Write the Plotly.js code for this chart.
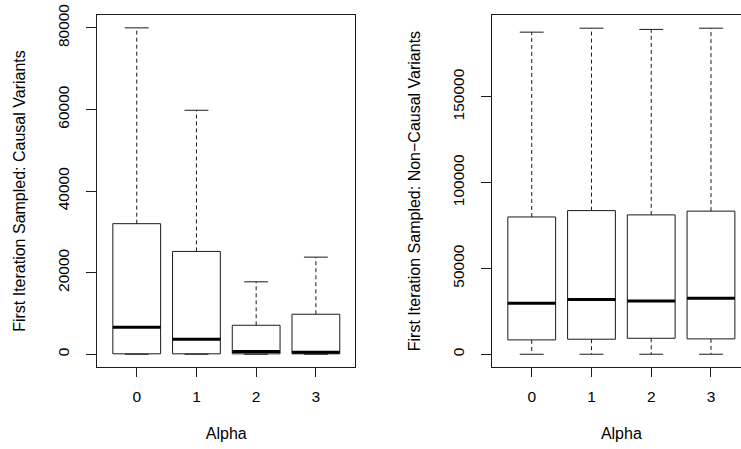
<!DOCTYPE html>
<html>
<head>
<meta charset="utf-8">
<script src="https://cdn.plot.ly/plotly-3.0.1.min.js"></script>
<style>
html, body { margin: 0; padding: 0; overflow: hidden; background: #fff; }
#chart { width: 760px; height: 449px; }
</style>
</head>
<body>
<div id="chart"></div>
<script>
// ---- data ----
var alphaLevels = [0, 1, 2, 3];
var alphaLabels = ['0', '1', '2', '3'];

// Causal variants
var causalLower  = [0, 0, 0, 0];
var causalQ1     = [100, 100, 100, 100];
var causalMedian = [6600, 3700, 650, 500];
var causalQ3     = [32000, 25200, 7100, 9800];
var causalUpper  = [80000, 59800, 17750, 23800];

// Non-causal variants
var noncausalLower  = [0, 0, 0, 0];
var noncausalQ1     = [8350, 8750, 9300, 8950];
var noncausalMedian = [29700, 31900, 31100, 32600];
var noncausalQ3     = [80000, 83700, 81200, 83400];
var noncausalUpper  = [187700, 190000, 189300, 190000];

var causalTitle = 'First Iteration Sampled: Causal Variants';
var noncausalTitle = 'First Iteration Sampled: Non\u2212Causal Variants';
var xTitle = 'Alpha';

// ---- helpers ----
var HALF = 0.4, CAP = 0.2;
var FONT = 'Liberation Sans, Arial, Helvetica, sans-serif';
var LINE = '#1a1a1a';

function boxTraces(lower, q1, med, q3, upper, xa, ya) {
  var bx = [], by = [], wx = [], wy = [], cx = [], cy = [], mx = [], my = [];
  alphaLevels.forEach(function (c, i) {
    bx.push(c - HALF, c + HALF, c + HALF, c - HALF, c - HALF, null);
    by.push(q1[i], q1[i], q3[i], q3[i], q1[i], null);
    wx.push(c, c, null, c, c, null);
    wy.push(q3[i], upper[i], null, q1[i], lower[i], null);
    cx.push(c - CAP, c + CAP, null, c - CAP, c + CAP, null);
    cy.push(upper[i], upper[i], null, lower[i], lower[i], null);
    mx.push(c - HALF, c + HALF, null);
    my.push(med[i], med[i], null);
  });
  var common = { type: 'scatter', mode: 'lines', xaxis: xa, yaxis: ya,
                 hoverinfo: 'skip', showlegend: false };
  return [
    Object.assign({}, common, { x: wx, y: wy, line: { color: LINE, width: 1, dash: '4px,3px' } }),
    Object.assign({}, common, { x: cx, y: cy, line: { color: LINE, width: 1 } }),
    Object.assign({}, common, { x: bx, y: by, line: { color: LINE, width: 1 } }),
    Object.assign({}, common, { x: mx, y: my, line: { color: '#000', width: 3 } })
  ];
}

var data = []
  .concat(boxTraces(causalLower, causalQ1, causalMedian, causalQ3, causalUpper, 'x', 'y'))
  .concat(boxTraces(noncausalLower, noncausalQ1, noncausalMedian, noncausalQ3, noncausalUpper, 'x2', 'y2'));

var W = 760;
function axisX(domain, anchor) {
  return {
    domain: domain, anchor: anchor, range: [-0.66, 3.66],
    tickmode: 'array', tickvals: alphaLevels, ticktext: alphaLabels,
    ticks: 'outside', ticklen: 9, tickcolor: LINE, tickwidth: 1,
    showline: true, mirror: true, linecolor: LINE, linewidth: 1,
    showgrid: false, zeroline: false, automargin: false,
    tickfont: { family: FONT, size: 15.5, color: '#000' },
    ticklabelstandoff: 6,
    title: { text: xTitle, font: { family: FONT, size: 16, color: '#000' }, standoff: 23 }
  };
}
function axisY(domain, anchor, range, tickvals, title) {
  return {
    domain: domain, anchor: anchor, range: range,
    tickmode: 'array', tickvals: tickvals, ticktext: tickvals.map(String),
    tickangle: -90,
    ticks: 'outside', ticklen: 10, tickcolor: LINE, tickwidth: 1,
    showline: true, mirror: true, linecolor: LINE, linewidth: 1,
    showgrid: false, zeroline: false, automargin: false,
    tickfont: { family: FONT, size: 15.5, color: '#000' },
    ticklabelstandoff: 11,
    title: { text: title, font: { family: FONT, size: 16, color: '#000' }, standoff: 25 }
  };
}

var yDom = [0.182, 0.967];
var layout = {
  width: W, height: 449,
  margin: { l: 0, r: 0, t: 0, b: 0 },
  paper_bgcolor: '#fff', plot_bgcolor: '#fff',
  showlegend: false,
  xaxis: axisX([97.3 / W, 355.3 / W], 'y'),
  yaxis: axisY(yDom, 'x', [-3200, 83200], [0, 20000, 40000, 60000, 80000], causalTitle),
  xaxis2: axisX([492.3 / W, 750.4 / W], 'y2'),
  yaxis2: axisY(yDom, 'x2', [-7600, 197800], [0, 50000, 100000, 150000], noncausalTitle)
};

Plotly.newPlot('chart', data, layout, { staticPlot: true, displayModeBar: false });
</script>
</body>
</html>
